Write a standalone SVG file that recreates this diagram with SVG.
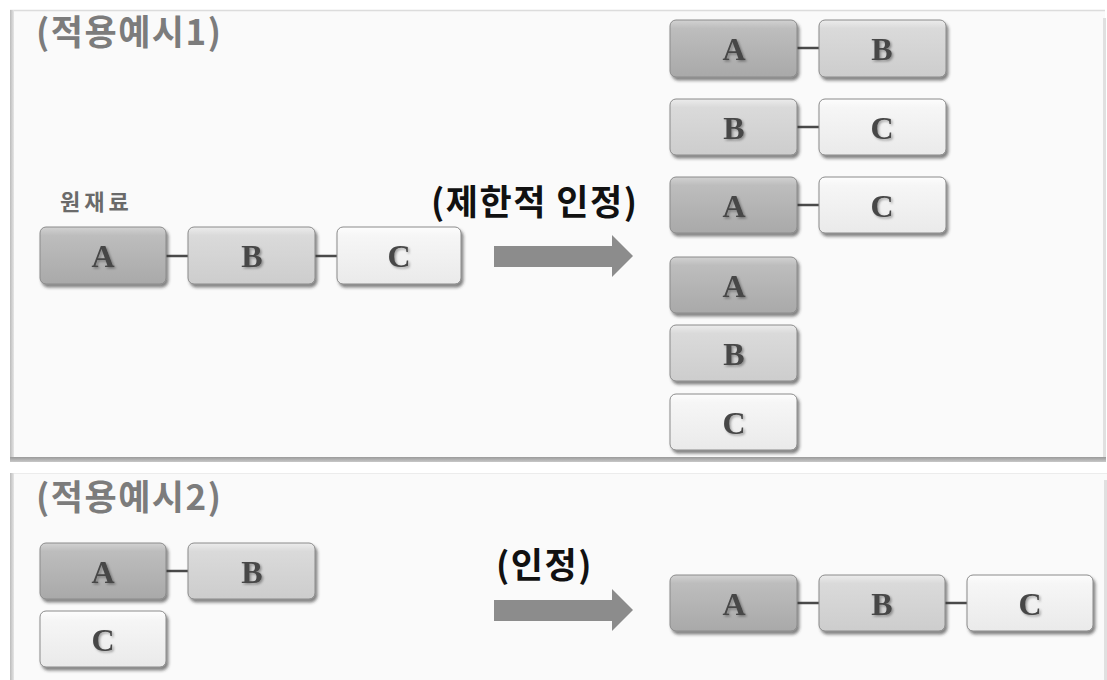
<svg xmlns="http://www.w3.org/2000/svg" width="1107" height="680" viewBox="0 0 1107 680">
<defs>
<linearGradient id="gA" x1="0" y1="0" x2="0" y2="1"><stop offset="0" stop-color="#d2d2d2"/><stop offset="0.15" stop-color="#bdbdbd"/><stop offset="1" stop-color="#a9a9a9"/></linearGradient>
<linearGradient id="gB" x1="0" y1="0" x2="0" y2="1"><stop offset="0" stop-color="#ececec"/><stop offset="0.15" stop-color="#dadada"/><stop offset="1" stop-color="#cdcdcd"/></linearGradient>
<linearGradient id="gC" x1="0" y1="0" x2="0" y2="1"><stop offset="0" stop-color="#fdfdfd"/><stop offset="0.15" stop-color="#f6f6f6"/><stop offset="1" stop-color="#eaeaea"/></linearGradient>
<linearGradient id="gL" x1="0" y1="0" x2="1" y2="0"><stop offset="0" stop-color="#bbb"/><stop offset="1" stop-color="#e6e6e6"/></linearGradient>
<linearGradient id="gBot" x1="0" y1="0" x2="0" y2="1"><stop offset="0" stop-color="#9a9a9a"/><stop offset="1" stop-color="#c8c8c8"/></linearGradient>
<filter id="sh" x="-10%" y="-20%" width="125%" height="150%"><feDropShadow dx="2" dy="3" stdDeviation="1.6" flood-color="#333" flood-opacity="0.6"/></filter>
<filter id="tsh" x="-20%" y="-20%" width="150%" height="150%"><feDropShadow dx="1.5" dy="1.5" stdDeviation="1" flood-color="#000" flood-opacity="0.35"/></filter>
<style>
.box{stroke:#8a8a8a;stroke-width:1;filter:url(#sh)}
.a{fill:url(#gA)} .b{fill:url(#gB)} .c{fill:url(#gC)}
.lt{font-family:"Liberation Serif",serif;font-weight:bold;font-size:32px;fill:#474747;text-anchor:middle;filter:url(#tsh)}
.ttl{font-family:"Noto Sans CJK KR","Noto Sans",sans-serif;font-weight:bold;font-size:35px;letter-spacing:1.5px;fill:#7c7c7c}
.lbl{font-family:"Noto Sans CJK KR","Noto Sans",sans-serif;font-weight:bold;font-size:35px;letter-spacing:1.5px;fill:#111}
.sm{font-family:"Noto Sans CJK KR","Noto Sans",sans-serif;font-weight:bold;font-size:22px;letter-spacing:4px;fill:#6a6a6a}
.con{stroke:#4a4a4a;stroke-width:2.5}
.arr{fill:#8c8c8c}
</style>
</defs>
<rect width="1107" height="680" fill="#ffffff"/>
<g id="panel1">
<rect x="10" y="10" width="1095" height="451" fill="#fafafa"/>
<line x1="10" y1="10.5" x2="1105" y2="10.5" stroke="#dcdcdc" stroke-width="1.5"/>
<rect x="10" y="10" width="4" height="451" fill="url(#gL)"/>
<rect x="1103" y="18" width="3" height="443" fill="#e0e0e0"/>
<rect x="10" y="457" width="1096" height="5" fill="url(#gBot)"/>
<text class="ttl" x="36" y="45">(적용예시1)</text>
</g>
<g id="panel2">
<rect x="10" y="473" width="1097" height="210" fill="#fafafa"/>
<line x1="10" y1="473.5" x2="1107" y2="473.5" stroke="#ececec" stroke-width="1"/>
<rect x="10" y="473" width="4" height="210" fill="url(#gL)"/>
<rect x="1104" y="480" width="3" height="200" fill="#e0e0e0"/>
<text class="ttl" x="36" y="510">(적용예시2)</text>
</g>
<g id="connectors">
<line class="con" x1="166" y1="256" x2="188" y2="256"/>
<line class="con" x1="315" y1="256" x2="337" y2="256"/>
<line class="con" x1="797" y1="48" x2="819" y2="48"/>
<line class="con" x1="797" y1="127" x2="819" y2="127"/>
<line class="con" x1="797" y1="205" x2="819" y2="205"/>
<line class="con" x1="166" y1="571" x2="188" y2="571"/>
<line class="con" x1="797" y1="603" x2="819" y2="603"/>
<line class="con" x1="945" y1="603" x2="967" y2="603"/>
<polygon class="arr" points="494,246 612,246 612,235 633,256 612,277 612,267 494,267"/>
<polygon class="arr" points="494,600 612,600 612,589 633,610 612,631 612,621 494,621"/>
</g>
<g id="label-raw"><text class="sm" x="60" y="210">원재료</text></g>
<g id="label-limited"><text class="lbl" x="431" y="215">(제한적 인정)</text></g>
<g id="label-ok"><text class="lbl" x="496" y="578">(인정)</text></g>
<g id="src1-A"><rect class="box a" x="40" y="227" width="126" height="57" rx="6"/><text class="lt" x="103" y="267">A</text></g>
<g id="src1-B"><rect class="box b" x="188" y="227" width="127" height="57" rx="6"/><text class="lt" x="252" y="267">B</text></g>
<g id="src1-C"><rect class="box c" x="337" y="227" width="124" height="57" rx="6"/><text class="lt" x="399" y="267">C</text></g>
<g id="r1-A"><rect class="box a" x="670" y="20" width="127" height="57" rx="6"/><text class="lt" x="734" y="60">A</text></g>
<g id="r1-B"><rect class="box b" x="819" y="20" width="127" height="57" rx="6"/><text class="lt" x="882" y="60">B</text></g>
<g id="r2-B"><rect class="box b" x="670" y="99" width="127" height="56" rx="6"/><text class="lt" x="734" y="139">B</text></g>
<g id="r2-C"><rect class="box c" x="819" y="99" width="127" height="56" rx="6"/><text class="lt" x="882" y="139">C</text></g>
<g id="r3-A"><rect class="box a" x="670" y="177" width="127" height="56" rx="6"/><text class="lt" x="734" y="217">A</text></g>
<g id="r3-C"><rect class="box c" x="819" y="177" width="127" height="56" rx="6"/><text class="lt" x="882" y="217">C</text></g>
<g id="r4-A"><rect class="box a" x="670" y="257" width="127" height="56" rx="6"/><text class="lt" x="734" y="297">A</text></g>
<g id="r5-B"><rect class="box b" x="670" y="325" width="127" height="56" rx="6"/><text class="lt" x="734" y="365">B</text></g>
<g id="r6-C"><rect class="box c" x="670" y="394" width="127" height="56" rx="6"/><text class="lt" x="734" y="434">C</text></g>
<g id="src2-A"><rect class="box a" x="40" y="543" width="126" height="56" rx="6"/><text class="lt" x="103" y="583">A</text></g>
<g id="src2-B"><rect class="box b" x="188" y="543" width="127" height="56" rx="6"/><text class="lt" x="252" y="583">B</text></g>
<g id="src2-C"><rect class="box c" x="40" y="611" width="126" height="56" rx="6"/><text class="lt" x="103" y="651">C</text></g>
<g id="res-A"><rect class="box a" x="670" y="575" width="127" height="56" rx="6"/><text class="lt" x="734" y="615">A</text></g>
<g id="res-B"><rect class="box b" x="819" y="575" width="126" height="56" rx="6"/><text class="lt" x="882" y="615">B</text></g>
<g id="res-C"><rect class="box c" x="967" y="575" width="126" height="56" rx="6"/><text class="lt" x="1030" y="615">C</text></g>
</svg>
